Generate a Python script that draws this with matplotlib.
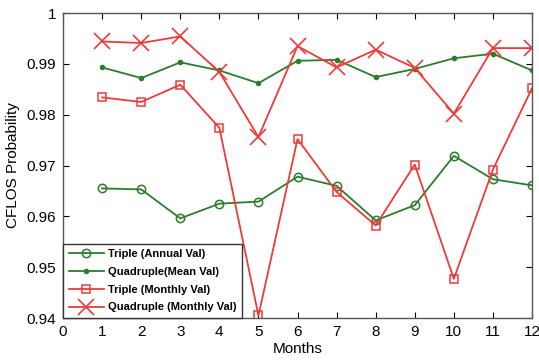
import matplotlib
matplotlib.use("Agg")
import matplotlib.pyplot as plt

months = list(range(1, 13))
triple_annual = [0.9655, 0.9653, 0.9596, 0.9625, 0.9629, 0.9678,
                 0.9660, 0.9592, 0.9622, 0.9719, 0.9673, 0.9661]
quad_mean = [0.9893, 0.9872, 0.9903, 0.9887, 0.9862, 0.9906,
             0.9908, 0.9874, 0.9890, 0.9911, 0.9920, 0.9887]
triple_monthly = [0.9834, 0.9825, 0.9859, 0.9774, 0.9405, 0.9752,
                  0.9648, 0.9582, 0.9702, 0.9477, 0.9692, 0.9852]
quad_monthly = [0.9944, 0.9941, 0.9954, 0.9884, 0.9756, 0.9935,
                0.9893, 0.9928, 0.9892, 0.9802, 0.9931, 0.9931]

xticks = list(range(0, 13))
yticks = [0.94, 0.95, 0.96, 0.97, 0.98, 0.99, 1.0]
ytick_labels = ["0.94", "0.95", "0.96", "0.97", "0.98", "0.99", "1"]

plt.rcParams["font.family"] = ["Liberation Sans", "DejaVu Sans"]

green = "#2b7d2b"
red = "#f03a3a"

fig = plt.figure(figsize=(5.39, 3.62), dpi=100)
ax = fig.add_axes([0.117, 0.1215, 0.870, 0.8425])

ax.plot(months, triple_annual, color=green, lw=1.3, marker="o", ms=6,
        mfc="none", mec=green, mew=1.1, label="Triple (Annual Val)")
ax.plot(months, quad_mean, color=green, lw=1.3, marker="o", ms=3,
        mfc=green, mec=green, label="Quadruple(Mean Val)")
ax.plot(months, triple_monthly, color=red, lw=1.3, marker="s", ms=5.5,
        mfc="none", mec=red, mew=1.1, label="Triple (Monthly Val)")
ax.plot(months, quad_monthly, color=red, lw=1.3, marker="x", ms=11,
        mec=red, mew=1.2, label="Quadruple (Monthly Val)")

ax.set_xlim(0, 12)
ax.set_ylim(0.94, 1.0)
ax.set_xticks(xticks)
ax.set_yticks(yticks)
ax.set_yticklabels(ytick_labels)
ax.tick_params(direction="in", top=True, right=True, labelsize=11,
               length=4.5, width=0.8, pad=5)
for s in ax.spines.values():
    s.set_color("#555555")
    s.set_linewidth(1.0)

ax.set_xlabel("Months", fontsize=11, labelpad=2)
ax.set_ylabel("CFLOS Probability", fontsize=11, labelpad=5)

leg = ax.legend(loc="lower left", borderaxespad=0, fancybox=False,
                framealpha=1, edgecolor="#333333", handlelength=3.2,
                prop={"weight": "bold", "size": 8}, labelspacing=0.7,
                borderpad=0.5, handletextpad=0.35)
leg.get_frame().set_linewidth(1.0)

fig.savefig("out.png", dpi=100)
